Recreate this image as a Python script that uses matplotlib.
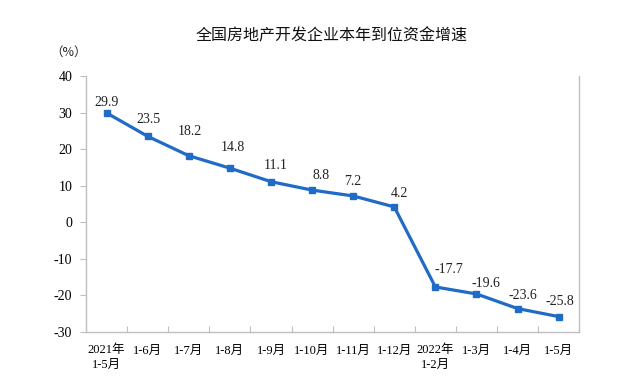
import matplotlib
matplotlib.use("Agg")
import matplotlib.pyplot as plt
from matplotlib.ticker import FixedLocator

categories = ["2021年\n1-5月", "1-6月", "1-7月", "1-8月", "1-9月", "1-10月", "1-11月",
              "1-12月", "2022年\n1-2月", "1-3月", "1-4月", "1-5月"]
values = [29.9, 23.5, 18.2, 14.8, 11.1, 8.8, 7.2, 4.2, -17.7, -19.6, -23.6, -25.8]
yticks = [40, 30, 20, 10, 0, -10, -20, -30]
title = "全国房地产开发企业本年到位资金增速"

# label placement (pixel offsets of label centre from its point)
label_dx = [0, 1, 1, 3, 5, 9, 0, 5, 14, 9, 5, 1]
label_dy = [10, 17, 24, 21, 16, 15, 14, 13, 17, 10, 13, 15]

serif = ["Liberation Serif", "Noto Sans CJK SC"]
color = "#1F6BC6"
gray = "#BFBFBF"

fig = plt.figure(figsize=(6.33, 3.82), dpi=100)
ax = fig.add_axes([0.136, 0.131, 0.779, 0.670])

x = list(range(len(values)))
ax.plot(x, values, color=color, lw=2.3, marker="s", ms=5, mfc=color, mec=color, zorder=3)

for xi, v, dx, dy in zip(x, values, label_dx, label_dy):
    ax.annotate(f"{v}", (xi, v), xytext=(dx, dy), textcoords="offset pixels",
                ha="center", va="center", fontsize=10, family=serif, color="#222222")

ax.set_xlim(-0.5, len(values) - 0.5)
ax.set_ylim(-30, 40)
ax.set_yticks(yticks)
ax.set_yticklabels([str(t) for t in yticks], family=serif, fontsize=10)
ax.set_xticks(x)
ax.set_xticklabels(categories, family=serif, fontsize=9, linespacing=1.25)
ax.xaxis.set_minor_locator(FixedLocator([i + 0.5 for i in range(-1, len(values))]))
ax.tick_params(axis="x", which="major", length=0, pad=9)
ax.tick_params(axis="x", which="minor", direction="in", length=4, color=gray, width=0.8)
ax.tick_params(axis="y", direction="out", length=4, color=gray, width=0.8, pad=6)

for s in ["left", "right", "bottom"]:
    ax.spines[s].set_color(gray)
    ax.spines[s].set_linewidth(1.0)
ax.spines["top"].set_visible(False)

fig.text(0.523, 0.905, title, ha="center", va="center", fontsize=11.5,
         family=["Noto Sans CJK SC"], fontweight="medium", color="#111111")
fig.text(0.108, 0.862, "（%）", ha="center", va="center", fontsize=9,
         family=["Noto Sans CJK SC"], color="#222222")

fig.savefig("out.png", dpi=100)
